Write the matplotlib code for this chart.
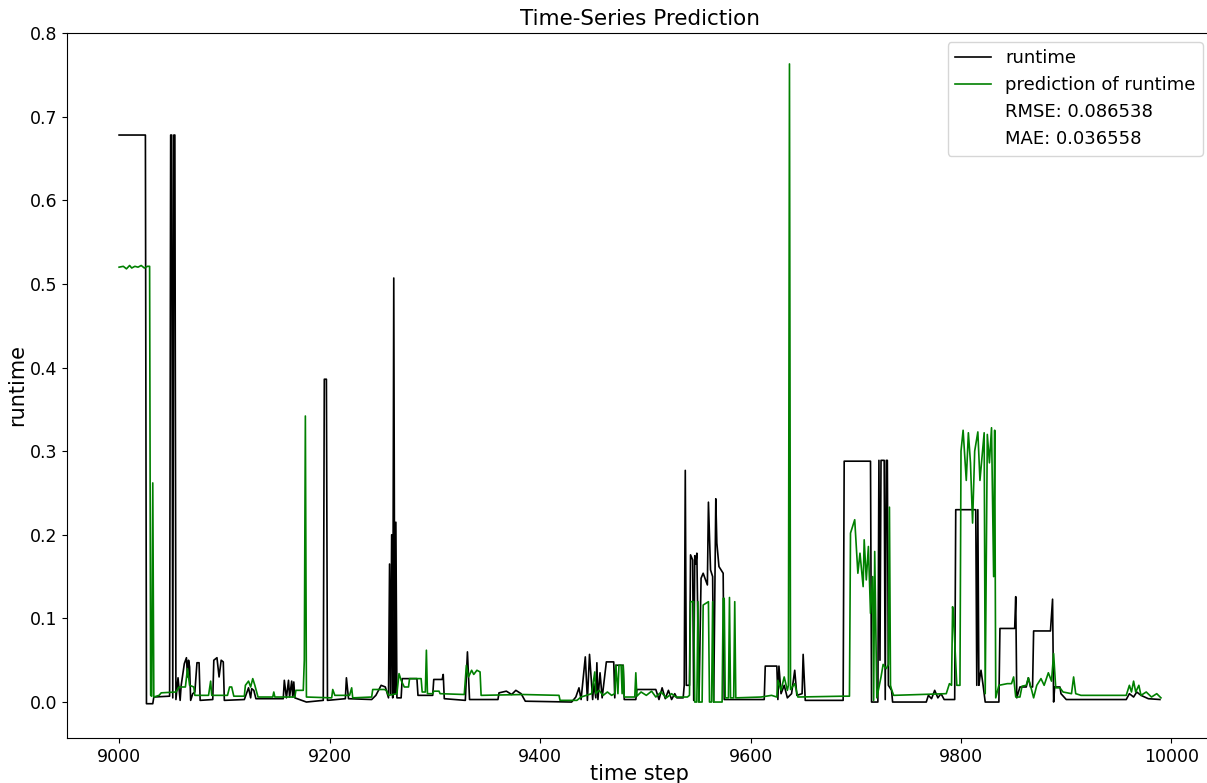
import matplotlib
matplotlib.use("Agg")
import matplotlib.pyplot as plt

# runtime (actual) vertices: time step, value
runtime_steps = [
    9000, 9025, 9026, 9032, 9033, 9048, 9049, 9050, 9051, 9052, 9053, 9054,
    9056, 9058, 9059, 9062, 9064, 9065, 9066, 9067, 9068, 9070, 9072, 9074,
    9076, 9077, 9089, 9090, 9093, 9095, 9097, 9099, 9100, 9119, 9123, 9125,
    9126, 9128, 9130, 9156, 9157, 9159, 9161, 9162, 9164, 9165, 9166, 9167,
    9178, 9194, 9195, 9197, 9198, 9215, 9216, 9218, 9240, 9244, 9249, 9253,
    9256, 9257, 9258, 9259, 9260, 9261, 9262, 9263, 9264, 9268, 9269, 9283,
    9284, 9298, 9299, 9307, 9308, 9309, 9329, 9331, 9333, 9360, 9361, 9368,
    9373, 9377, 9382, 9386, 9430, 9434, 9437, 9439, 9443, 9445, 9447, 9450,
    9451, 9453, 9454, 9455, 9457, 9459, 9463, 9470, 9471, 9472, 9479, 9480,
    9491, 9492, 9510, 9513, 9516, 9519, 9522, 9525, 9528, 9530, 9536, 9537,
    9538, 9539, 9542, 9543, 9545, 9546, 9547, 9548, 9549, 9551, 9553, 9555,
    9559, 9560, 9562, 9564, 9565, 9567, 9568, 9570, 9574, 9575, 9613, 9614,
    9625, 9626, 9627, 9629, 9632, 9635, 9639, 9642, 9644, 9649, 9650, 9652,
    9688, 9689, 9714, 9715, 9721, 9722, 9723, 9724, 9727, 9728, 9729, 9730,
    9731, 9734, 9735, 9767, 9769, 9772, 9775, 9778, 9781, 9784, 9794, 9795,
    9814, 9815, 9816, 9817, 9818, 9819, 9821, 9823, 9836, 9837, 9851, 9852,
    9853, 9856, 9862, 9864, 9866, 9868, 9869, 9885, 9887, 9888, 9889, 9894,
    9895, 9900, 9957, 9960, 9964, 9967, 9971, 9978, 9989,
]
runtime_values = [
    0.678, 0.678, -0.002, -0.002, 0.006, 0.007, 0.678, 0.678, 0.005, 0.678, 0.678, 0.003,
    0.029, 0.002, 0.020, 0.046, 0.053, 0.030, 0.050, 0.042, 0.002, 0.010, 0.012, 0.047,
    0.047, 0.002, 0.003, 0.050, 0.053, 0.030, 0.050, 0.048, 0.002, 0.003, 0.017, 0.005,
    0.016, 0.014, 0.004, 0.004, 0.026, 0.005, 0.026, 0.006, 0.025, 0.006, 0.024, 0.005,
    0.000, 0.002, 0.386, 0.386, 0.002, 0.004, 0.029, 0.004, 0.003, 0.008, 0.020, 0.018,
    0.005, 0.165, 0.010, 0.200, 0.005, 0.507, 0.010, 0.215, 0.005, 0.005, 0.028, 0.028,
    0.008, 0.008, 0.027, 0.027, 0.033, 0.004, 0.002, 0.060, 0.003, 0.003, 0.011, 0.013,
    0.009, 0.014, 0.010, 0.001, 0.000, 0.006, 0.017, 0.003, 0.054, 0.002, 0.057, 0.003,
    0.022, 0.005, 0.047, 0.003, 0.035, 0.005, 0.048, 0.048, 0.005, 0.044, 0.044, 0.003,
    0.003, 0.015, 0.015, 0.003, 0.017, 0.004, 0.014, 0.003, 0.010, 0.005, 0.005, 0.020,
    0.277, 0.020, 0.020, 0.176, 0.170, 0.002, 0.175, 0.165, 0.178, 0.000, 0.148, 0.154,
    0.140, 0.239, 0.158, 0.150, 0.000, 0.243, 0.190, 0.162, 0.154, 0.003, 0.003, 0.043,
    0.043, 0.003, 0.043, 0.010, 0.020, 0.005, 0.010, 0.038, 0.008, 0.010, 0.057, 0.002,
    0.002, 0.288, 0.288, 0.000, 0.000, 0.289, 0.050, 0.289, 0.289, 0.003, 0.289, 0.289,
    0.020, 0.014, 0.000, 0.000, 0.008, 0.004, 0.014, 0.005, 0.010, 0.003, 0.003, 0.230,
    0.230, 0.020, 0.230, 0.020, 0.030, 0.038, 0.020, 0.000, 0.000, 0.088, 0.088, 0.126,
    0.005, 0.018, 0.018, 0.029, 0.018, 0.018, 0.085, 0.085, 0.123, 0.000, 0.018, 0.018,
    0.010, 0.003, 0.003, 0.010, 0.006, 0.012, 0.008, 0.004, 0.003,
]

# prediction vertices: time step, value
pred_steps = [
    9000, 9004, 9007, 9010, 9012, 9015, 9018, 9021, 9024, 9027, 9029, 9030,
    9031, 9032, 9033, 9038, 9040, 9054, 9057, 9063, 9065, 9067, 9071, 9072,
    9085, 9087, 9088, 9103, 9105, 9107, 9109, 9119, 9120, 9123, 9125, 9127,
    9129, 9132, 9146, 9147, 9148, 9167, 9168, 9175, 9176, 9177, 9178, 9202,
    9203, 9205, 9219, 9221, 9222, 9240, 9241, 9252, 9254, 9256, 9264, 9266,
    9268, 9271, 9275, 9276, 9287, 9288, 9291, 9292, 9293, 9298, 9299, 9304,
    9305, 9328, 9330, 9332, 9335, 9337, 9340, 9343, 9344, 9384, 9418, 9419,
    9435, 9439, 9449, 9452, 9453, 9456, 9460, 9464, 9468, 9471, 9472, 9474,
    9475, 9477, 9478, 9479, 9480, 9490, 9491, 9492, 9496, 9501, 9506, 9510,
    9515, 9520, 9525, 9529, 9540, 9542, 9543, 9546, 9547, 9549, 9550, 9551,
    9554, 9555, 9560, 9561, 9563, 9564, 9565, 9573, 9574, 9575, 9576, 9579,
    9580, 9581, 9584, 9585, 9586, 9610, 9620, 9625, 9626, 9629, 9632, 9635,
    9636, 9637, 9638, 9642, 9645, 9688, 9694, 9695, 9699, 9702, 9704, 9707,
    9708, 9710, 9712, 9714, 9716, 9717, 9718, 9720, 9724, 9726, 9729, 9731,
    9732, 9733, 9734, 9736, 9786, 9789, 9791, 9792, 9793, 9796, 9799, 9800,
    9802, 9805, 9807, 9809, 9811, 9813, 9816, 9818, 9822, 9823, 9825, 9827,
    9829, 9831, 9832, 9833, 9836, 9844, 9848, 9850, 9852, 9856, 9858, 9862,
    9864, 9867, 9869, 9872, 9876, 9879, 9883, 9886, 9888, 9890, 9894, 9897,
    9905, 9907, 9909, 9914, 9957, 9960, 9962, 9964, 9966, 9969, 9971, 9976,
    9981, 9986, 9990,
]
pred_values = [
    0.520, 0.521, 0.518, 0.522, 0.519, 0.521, 0.520, 0.522, 0.519, 0.521, 0.521, 0.008,
    0.007, 0.262, 0.006, 0.008, 0.011, 0.012, 0.018, 0.018, 0.040, 0.020, 0.018, 0.008,
    0.008, 0.025, 0.008, 0.008, 0.018, 0.018, 0.007, 0.007, 0.020, 0.025, 0.018, 0.028,
    0.020, 0.006, 0.006, 0.012, 0.006, 0.006, 0.014, 0.014, 0.050, 0.342, 0.006, 0.005,
    0.015, 0.008, 0.008, 0.017, 0.005, 0.006, 0.015, 0.015, 0.014, 0.008, 0.010, 0.034,
    0.026, 0.018, 0.018, 0.028, 0.028, 0.012, 0.012, 0.062, 0.010, 0.010, 0.013, 0.013,
    0.010, 0.009, 0.044, 0.030, 0.038, 0.033, 0.038, 0.036, 0.008, 0.009, 0.008, 0.002,
    0.002, 0.006, 0.010, 0.036, 0.010, 0.014, 0.008, 0.012, 0.008, 0.010, 0.044, 0.010,
    0.044, 0.044, 0.010, 0.044, 0.006, 0.006, 0.035, 0.007, 0.012, 0.008, 0.013, 0.006,
    0.012, 0.005, 0.010, 0.006, 0.006, 0.008, 0.120, 0.120, 0.000, 0.000, 0.120, 0.000,
    0.000, 0.116, 0.120, 0.000, 0.000, 0.120, 0.000, 0.000, 0.124, 0.124, 0.005, 0.005,
    0.125, 0.005, 0.005, 0.120, 0.005, 0.006, 0.008, 0.006, 0.026, 0.014, 0.030, 0.014,
    0.020, 0.763, 0.015, 0.022, 0.006, 0.007, 0.007, 0.202, 0.218, 0.154, 0.178, 0.138,
    0.194, 0.146, 0.186, 0.106, 0.150, 0.002, 0.180, 0.005, 0.030, 0.045, 0.040, 0.045,
    0.233, 0.020, 0.015, 0.008, 0.010, 0.022, 0.020, 0.114, 0.100, 0.020, 0.020, 0.300,
    0.325, 0.265, 0.322, 0.286, 0.214, 0.300, 0.323, 0.265, 0.322, 0.010, 0.320, 0.286,
    0.328, 0.150, 0.325, 0.005, 0.020, 0.022, 0.022, 0.030, 0.006, 0.006, 0.019, 0.020,
    0.029, 0.015, 0.005, 0.020, 0.028, 0.020, 0.035, 0.025, 0.058, 0.017, 0.017, 0.012,
    0.010, 0.030, 0.010, 0.008, 0.008, 0.020, 0.012, 0.025, 0.012, 0.020, 0.008, 0.012,
    0.006, 0.010, 0.005,
]

rmse_label = "RMSE: 0.086538"
mae_label = "MAE: 0.036558"
x_ticks = [9000, 9200, 9400, 9600, 9800, 10000]
y_ticks = [0.0, 0.1, 0.2, 0.3, 0.4, 0.5, 0.6, 0.7, 0.8]

fig = plt.figure(figsize=(12.07, 7.83), dpi=100)
ax = fig.add_axes([67 / 1207, 45 / 783, (1212 - 67) / 1207, (738 - 33) / 783])

ax.plot(runtime_steps, runtime_values, color="black", lw=1.2, label="runtime")
ax.plot(pred_steps, pred_values, color="green", lw=1.2, label="prediction of runtime")
ax.plot([], [], " ", label=rmse_label)
ax.plot([], [], " ", label=mae_label)

ax.set_xlim(8950.5, 10038.5)
ax.set_ylim(-0.043, 0.800)
ax.set_xticks(x_ticks)
ax.set_yticks(y_ticks)
ax.set_yticklabels([f"{v:.1f}" for v in y_ticks])
ax.tick_params(labelsize=12.5)
ax.set_title("Time-Series Prediction", fontsize=15.5)
ax.set_xlabel("time step", fontsize=15, labelpad=-1)
ax.set_ylabel("runtime", fontsize=15, labelpad=2)
ax.legend(loc="upper right", fontsize=13)

fig.savefig("out.png", dpi=100)
